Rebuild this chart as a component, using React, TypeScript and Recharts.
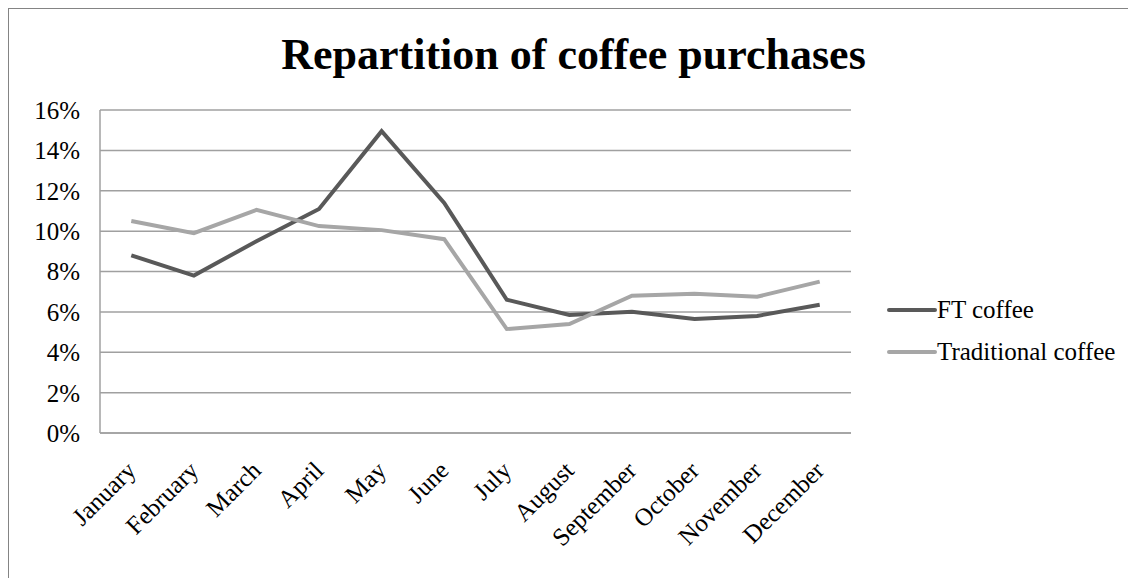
import { LineChart, Line, XAxis, YAxis, CartesianGrid } from 'recharts';

const months = [
  'January', 'February', 'March', 'April', 'May', 'June',
  'July', 'August', 'September', 'October', 'November', 'December',
];
const ftCoffee = [8.8, 7.8, 9.5, 11.1, 14.95, 11.4, 6.6, 5.85, 6.0, 5.65, 5.8, 6.35];
const traditionalCoffee = [10.5, 9.9, 11.05, 10.25, 10.05, 9.6, 5.15, 5.4, 6.8, 6.9, 6.75, 7.5];
const yTicks = [0, 2, 4, 6, 8, 10, 12, 14, 16];
const seriesNames = ['FT coffee', 'Traditional coffee'];

const FONT = '"Liberation Serif", "Times New Roman", serif';
const DARK = '#595959';
const LIGHT = '#a6a6a6';

const data = months.map((m, i) => ({
  month: m,
  ft: ftCoffee[i],
  trad: traditionalCoffee[i],
}));

// rotated month labels, right end sits just right of the category centre
function MonthTick({ x, y, payload }: { x: number; y: number; payload: { value: string } }) {
  return (
    <g transform={`translate(${x + 6},${y + 31}) rotate(-45)`}>
      <text textAnchor="end" fontSize={25} fontFamily={FONT} fill="#000">
        {payload.value}
      </text>
    </g>
  );
}

function LegendBox() {
  const colors = [DARK, LIGHT];
  return (
    <div
      style={{
        position: 'absolute',
        left: 878,
        top: 280,
        fontFamily: FONT,
        fontSize: 25,
        color: '#000',
      }}
    >
      {seriesNames.map((label, i) => (
        <div key={label} style={{ display: 'flex', alignItems: 'center', height: 42 }}>
          <svg width={50} height={10}>
            <line x1={2} y1={5} x2={48} y2={5} stroke={colors[i]} strokeWidth={4} strokeLinecap="round" />
          </svg>
          <span>{label}</span>
        </div>
      ))}
    </div>
  );
}

export default function App() {
  return (
    <div
      style={{
        position: 'relative',
        marginLeft: -1,
        marginTop: -1,
        width: 1129,
        height: 571,
        borderTop: '2px solid #848484',
        borderLeft: '2px solid #848484',
        overflow: 'hidden',
        background: '#fff',
        fontFamily: FONT,
      }}
    >
      <div
        style={{
          position: 'absolute',
          top: 24,
          left: 0,
          width: 1129,
          textAlign: 'center',
          fontFamily: FONT,
          fontWeight: 'bold',
          fontSize: 44,
          lineHeight: '44px',
          color: '#000',
        }}
      >
        Repartition of coffee purchases
      </div>
      <LineChart
        width={1127}
        height={570}
        data={data}
        margin={{ top: 101, right: 285, bottom: 46, left: 0 }}
        style={{ fontFamily: FONT }}
      >
        <CartesianGrid vertical={false} stroke="#a0a0a0" strokeWidth={1.5} />
        <XAxis
          dataKey="month"
          scale="band"
          height={100}
          interval={0}
          tickLine={false}
          axisLine={{ stroke: '#a0a0a0', strokeWidth: 1.5 }}
          tick={MonthTick}
        />
        <YAxis
          width={91}
          domain={[0, 16]}
          ticks={yTicks}
          interval={0}
          tickFormatter={(v: number) => `${v}%`}
          tickLine={false}
          tickSize={0}
          tickMargin={20}
          axisLine={{ stroke: '#a0a0a0', strokeWidth: 1.5 }}
          tick={{ fontSize: 25, fontFamily: FONT, fill: '#000' }}
        />
        <Line
          dataKey="ft"
          name={seriesNames[0]}
          stroke={DARK}
          strokeWidth={4}
          dot={false}
          isAnimationActive={false}
        />
        <Line
          dataKey="trad"
          name={seriesNames[1]}
          stroke={LIGHT}
          strokeWidth={4}
          dot={false}
          isAnimationActive={false}
        />
      </LineChart>
      <LegendBox />
    </div>
  );
}
